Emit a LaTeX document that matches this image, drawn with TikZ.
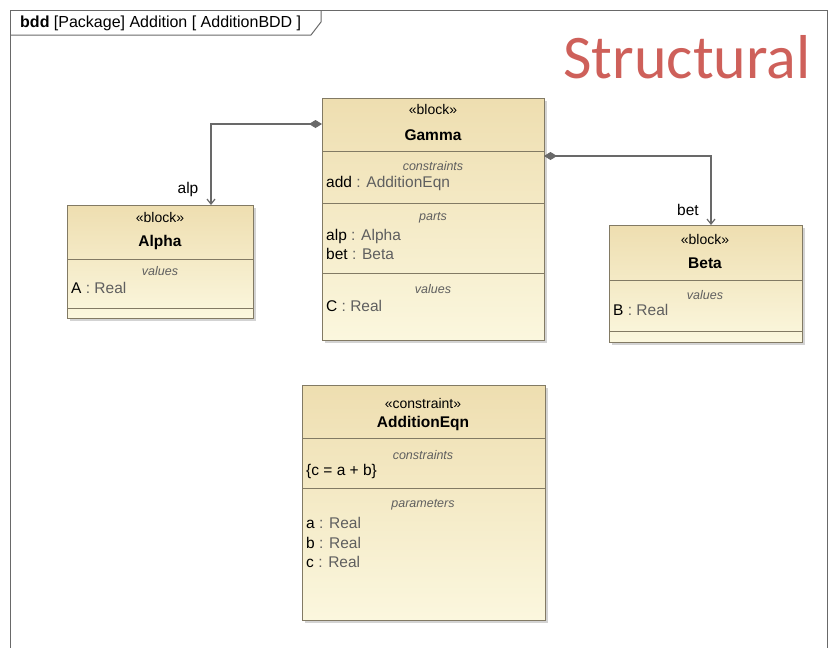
\documentclass[tikz,border=0pt]{standalone}
\usepackage{fontspec}
\setmainfont{Liberation Sans}
\newfontfamily\titlefont{Carlito}
\usetikzlibrary{arrows.meta,shadows}
\definecolor{frameedge}{RGB}{105,105,105}
\definecolor{blockedge}{RGB}{130,122,100}
\definecolor{blocktop}{RGB}{238,222,176}
\definecolor{blockbottom}{RGB}{251,247,222}
\definecolor{typegrey}{RGB}{95,95,95}
\definecolor{structred}{RGB}{206,96,90}
\begin{document}
\begin{tikzpicture}
[x=1pt,y=-1pt,
 blockdecorate/.style={shape=rectangle,draw=blockedge,anchor=north west,inner sep=0pt,
   top color=blocktop,bottom color=blockbottom,
   drop shadow={shadow xshift=2.5pt,shadow yshift=-2.5pt,opacity=0.35}},
 compline/.style={-,draw=blockedge,thick},
 stereodecorate/.style={font=\fontsize{14}{16}\selectfont,inner sep=0pt},
 namedecorate/.style={font=\fontsize{15.5}{18}\selectfont\bfseries,inner sep=0pt},
 compdecorate/.style={font=\fontsize{12.5}{15}\selectfont\itshape,text=typegrey,inner sep=0pt},
 featdecorate/.style={font=\fontsize{15.5}{18}\selectfont,anchor=west,inner sep=0pt},
 linedecorate/.style={draw=frameedge,line width=1.2pt,
   {Diamond[length=13pt,width=8pt]}-{Straight Barb[length=5pt,width=8pt]}}]
\useasboundingbox (0,0) rectangle (831,648);
%%% diagram frame
% frame and header tab
\draw[frameedge,line width=1pt] (10,648) -- (10,10) -- (827,10) -- (827,648);
\draw[frameedge,line width=1pt] (10,35) -- (311,35) -- (321,22) -- (321,10);
\node (head) at (20,23) [anchor=west,inner sep=0pt,font=\fontsize{16}{18}\selectfont]
  {\textbf{bdd} [Package] Addition [ AdditionBDD ]};
\node (title) at (811,57) [anchor=east,inner sep=0pt,text=structred,
  font=\titlefont\fontsize{62}{70}\selectfont] {Structural};
%
%%% block Gamma
% box and compartments
\node (gamma) at (322,98) [blockdecorate,minimum width=222pt,minimum height=242pt] {};
\draw[compline] (322,151) -- (544,151);
\draw[compline] (322,203) -- (544,203);
\draw[compline] (322,273) -- (544,273);
% texts
\node (gammast) at (433,109) [stereodecorate] {«block»};
\node (gammaname) at (433,135) [namedecorate] {Gamma};
\node (gammacon) at (433,166) [compdecorate] {constraints};
\node (gammaadd) at (326,183) [featdecorate] {add \textcolor{typegrey}{: AdditionEqn}};
\node (gammaparts) at (433,218) [compdecorate] {parts};
\node (gammaalp) at (326,236) [featdecorate] {alp \textcolor{typegrey}{: Alpha}};
\node (gammabet) at (326,254) [featdecorate] {bet \textcolor{typegrey}{: Beta}};
\node (gammaval) at (433,289) [compdecorate] {values};
\node (gammac) at (326,306) [featdecorate] {C \textcolor{typegrey}{: Real}};
%
%%% block Alpha
% box and compartments
\node (alpha) at (67,205) [blockdecorate,minimum width=186pt,minimum height=113pt] {};
\draw[compline] (67,259) -- (253,259);
\draw[compline] (67,308) -- (253,308);
% texts
\node (alphast) at (160,217) [stereodecorate] {«block»};
\node (alphaname) at (160,242) [namedecorate] {Alpha};
\node (alphaval) at (160,271) [compdecorate] {values};
\node (alphaa) at (71,288) [featdecorate] {A \textcolor{typegrey}{: Real}};
%
%%% block Beta
% box and compartments
\node (beta) at (609,225) [blockdecorate,minimum width=193pt,minimum height=117pt] {};
\draw[compline] (609,280) -- (802,280);
\draw[compline] (609,331) -- (802,331);
% texts
\node (betast) at (705,239) [stereodecorate] {«block»};
\node (betaname) at (705,263) [namedecorate] {Beta};
\node (betaval) at (705,295) [compdecorate] {values};
\node (betab) at (613,310) [featdecorate] {B \textcolor{typegrey}{: Real}};
%
%%% constraint block AdditionEqn
% box and compartments
\node (addeqn) at (302,385) [blockdecorate,minimum width=243pt,minimum height=235pt] {};
\draw[compline] (302,438) -- (545,438);
\draw[compline] (302,488) -- (545,488);
% texts
\node (addst) at (423,403) [stereodecorate] {«constraint»};
\node (addname) at (423,423) [namedecorate] {AdditionEqn};
\node (addcon) at (423,455) [compdecorate] {constraints};
\node (addrule) at (306,471) [featdecorate] {\{c = a + b\}};
\node (addpar) at (423,505) [compdecorate] {parameters};
\node (adda) at (306,523) [featdecorate] {a \textcolor{typegrey}{: Real}};
\node (addb) at (306,543) [featdecorate] {b \textcolor{typegrey}{: Real}};
\node (addc) at (306,562) [featdecorate] {c \textcolor{typegrey}{: Real}};
%
%%% part associations
% end points
\coordinate (gammaleft) at (322,124);
\coordinate (alphatop) at (211,205);
\coordinate (gammaright) at (544,156);
\coordinate (betatop) at (711,225);
% lines
\draw[linedecorate] (gammaleft) -| (alphatop);
\draw[linedecorate] (gammaright) -| (betatop);
\node (alplabel) at (188,189) [inner sep=0pt,font=\fontsize{15.5}{18}\selectfont] {alp};
\node (betlabel) at (688,210) [inner sep=0pt,font=\fontsize{15.5}{18}\selectfont] {bet};
\end{tikzpicture}
\end{document}
